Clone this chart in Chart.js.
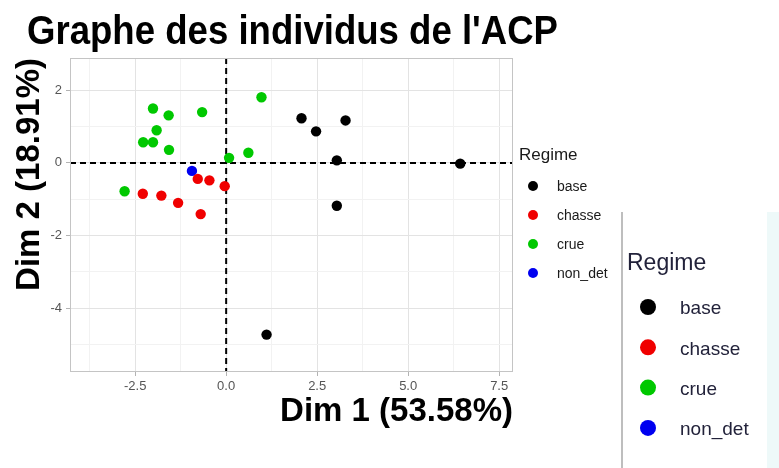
<!DOCTYPE html>
<html>
<head>
<meta charset="utf-8">
<script src="https://cdn.jsdelivr.net/npm/chart.js@4.4.1/dist/chart.umd.min.js"></script>
<style>
  html, body { margin: 0; padding: 0; background: #fff; }
</style>
</head>
<body>
<canvas id="acpChart" width="779" height="468"></canvas>
<script>
// Coordinates of the individuals on Dim 1 / Dim 2, by regime
const baseX = [2.07, 3.28, 2.47, 3.04, 6.43, 3.04, 1.11];
const baseY = [1.23, 1.17, 0.87, 0.07, -0.02, -1.18, -4.73];
const chasseX = [-0.78, -0.46, -0.04, -2.29, -1.78, -1.32, -0.70];
const chasseY = [-0.44, -0.48, -0.64, -0.85, -0.90, -1.10, -1.41];
const crueX = [0.97, -2.01, -1.58, -0.66, -1.91, -2.28, -2.01, -1.57, 0.08, 0.61, -2.79];
const crueY = [1.81, 1.50, 1.31, 1.40, 0.90, 0.57, 0.57, 0.36, 0.14, 0.28, -0.78];
const nonDetX = [-0.94];
const nonDetY = [-0.22];

const regimes = ['base', 'chasse', 'crue', 'non_det'];
const regimeColors = ['#000000', '#f00000', '#00c800', '#0000f0'];

const xTicks = [-2.5, 0, 2.5, 5, 7.5];
const yTicks = [-4, -2, 0, 2];

const FONT = "'Liberation Sans', Arial, sans-serif";

function toPoints(xs, ys) {
    return xs.map((x, i) => ({ x: x, y: ys[i] }));
}

function isMajor(v, list) {
    return list.some(t => Math.abs(t - v) < 1e-6);
}

// title, panel border, zero lines and the two legends
const decorations = {
    id: 'decorations',
    beforeDatasetsDraw(chart) {
        const { ctx, chartArea: a, scales } = chart;
        const x0 = scales.x.getPixelForValue(0);
        const y0 = scales.y.getPixelForValue(0);
        ctx.save();
        ctx.strokeStyle = '#000';
        ctx.lineWidth = 2;
        ctx.setLineDash([6, 4]);
        ctx.beginPath();
        ctx.moveTo(x0, a.top);
        ctx.lineTo(x0, a.bottom);
        ctx.moveTo(a.left, y0);
        ctx.lineTo(a.right, y0);
        ctx.stroke();
        ctx.restore();
    },
    afterDraw(chart) {
        const { ctx, chartArea: a } = chart;
        ctx.save();
        // panel border
        ctx.strokeStyle = '#c4c4c4';
        ctx.lineWidth = 1;
        ctx.strokeRect(a.left + 0.5, a.top + 0.5, a.right - a.left - 1, a.bottom - a.top - 1);

        // title, slightly condensed like the original
        const title = "Graphe des individus de l'ACP";
        ctx.fillStyle = '#000';
        ctx.font = 'bold 41px ' + FONT;
        ctx.textBaseline = 'alphabetic';
        ctx.textAlign = 'left';
        const w = ctx.measureText(title).width;
        ctx.save();
        ctx.translate(27, 44);
        ctx.scale(531 / w, 1);
        ctx.fillText(title, 0, 0);
        ctx.restore();

        // small legend
        ctx.font = '17px ' + FONT;
        ctx.textBaseline = 'middle';
        ctx.fillStyle = '#1a1a1a';
        ctx.fillText('Regime', 519, 155);
        ctx.font = '14px ' + FONT;
        regimes.forEach((r, i) => {
            const y = 186 + i * 29;
            ctx.fillStyle = regimeColors[i];
            ctx.beginPath();
            ctx.arc(533, y, 5, 0, Math.PI * 2);
            ctx.fill();
            ctx.fillStyle = '#1a1a1a';
            ctx.fillText(r, 557, y + 1);
        });

        // enlarged legend overlay
        ctx.fillStyle = '#ffffff';
        ctx.fillRect(622, 212, 145, 256);
        ctx.fillStyle = '#eef9f9';
        ctx.fillRect(767, 212, 12, 256);
        ctx.strokeStyle = '#a9a9a9';
        ctx.lineWidth = 1.5;
        ctx.beginPath();
        ctx.moveTo(622, 212);
        ctx.lineTo(622, 468);
        ctx.stroke();
        ctx.fillStyle = '#22223a';
        ctx.font = '23px ' + FONT;
        ctx.fillText('Regime', 627, 264);
        ctx.font = '19px ' + FONT;
        regimes.forEach((r, i) => {
            const y = 307 + i * 40.3;
            ctx.fillStyle = regimeColors[i];
            ctx.beginPath();
            ctx.arc(648, y, 8, 0, Math.PI * 2);
            ctx.fill();
            ctx.fillStyle = '#22223a';
            ctx.fillText(r, 680, y + 2);
        });
        ctx.restore();
    }
};

const ctx = document.getElementById('acpChart').getContext('2d');
const acpChart = new Chart(ctx, {
    type: 'scatter',
    data: {
        datasets: [
            { label: regimes[0], data: toPoints(baseX, baseY), backgroundColor: regimeColors[0] },
            { label: regimes[1], data: toPoints(chasseX, chasseY), backgroundColor: regimeColors[1] },
            { label: regimes[2], data: toPoints(crueX, crueY), backgroundColor: regimeColors[2] },
            { label: regimes[3], data: toPoints(nonDetX, nonDetY), backgroundColor: regimeColors[3] }
        ]
    },
    options: {
        responsive: false,
        animation: false,
        devicePixelRatio: 1,
        layout: { padding: { top: 58, right: 266, bottom: 0, left: 0 } },
        elements: { point: { radius: 5.2, borderWidth: 0, hoverRadius: 5.2 } },
        scales: {
            x: {
                type: 'linear',
                min: -4.29,
                max: 7.88,
                afterFit: s => { s.height = 96; },
                ticks: {
                    stepSize: 1.25,
                    includeBounds: false,
                    padding: 3,
                    color: '#555555',
                    font: { family: FONT, size: 13 },
                    maxRotation: 0,
                    callback: v => isMajor(v, xTicks) ? v.toFixed(1) : ''
                },
                grid: {
                    color: c => isMajor(c.tick.value, xTicks) ? '#e3e3e3' : '#f2f2f2',
                    tickColor: c => isMajor(c.tick.value, xTicks) ? '#b3b3b3' : 'transparent',
                    tickLength: 4
                },
                border: { display: false },
                title: {
                    display: true,
                    text: 'Dim 1 (53.58%)',
                    align: 'end',
                    color: '#000',
                    font: { family: FONT, size: 33, weight: 'bold' },
                    padding: { top: 0, bottom: 36 }
                }
            },
            y: {
                type: 'linear',
                min: -5.76,
                max: 2.89,
                afterFit: s => { s.width = 70; },
                ticks: {
                    stepSize: 1,
                    includeBounds: false,
                    padding: 4,
                    color: '#555555',
                    font: { family: FONT, size: 13 },
                    callback: v => isMajor(v, yTicks) ? String(v) : ''
                },
                grid: {
                    color: c => isMajor(c.tick.value, yTicks) ? '#e3e3e3' : '#f2f2f2',
                    tickColor: c => isMajor(c.tick.value, yTicks) ? '#b3b3b3' : 'transparent',
                    tickLength: 4
                },
                border: { display: false },
                title: {
                    display: true,
                    text: 'Dim 2 (18.91%)',
                    align: 'end',
                    color: '#000',
                    font: { family: FONT, size: 33, weight: 'bold' },
                    padding: { top: 10, bottom: 0 }
                }
            }
        },
        plugins: {
            legend: { display: false },
            tooltip: { enabled: false }
        }
    },
    plugins: [decorations]
});
</script>
</body>
</html>
